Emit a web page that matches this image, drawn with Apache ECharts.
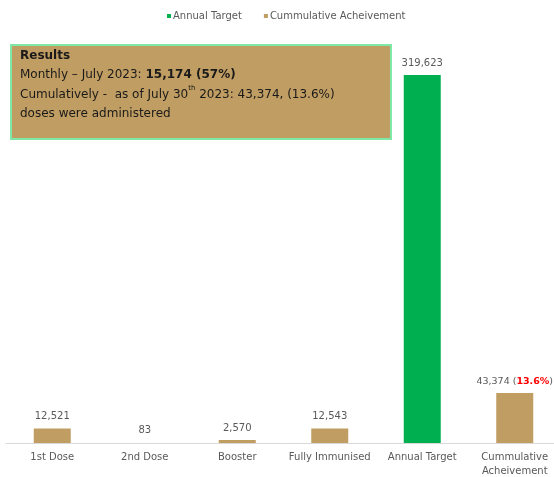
<!DOCTYPE html>
<html><head><meta charset="utf-8">
<script src="https://cdn.jsdelivr.net/npm/echarts@6/dist/echarts.min.js"></script>
<style>html,body{margin:0;padding:0;background:#fff}#c{width:554px;height:477px}</style>
</head><body><div id="c"></div>
<script>
var categories = ['1st Dose', '2nd Dose', 'Booster', 'Fully Immunised', 'Annual Target', 'Cummulative\nAcheivement'];
var targetValues = [null, null, null, null, 319623, null];
var achievementValues = [12521, 83, 2570, 12543, null, 43374];
var cumulativePct = '13.6%';

var GOLD = '#C09D62', GREEN = '#00B050', GRAY = '#595959';
var FONT = '"DejaVu Sans", sans-serif';
var chart = echarts.init(document.getElementById('c'));
chart.setOption({
  animation: false,
  textStyle: { fontFamily: FONT },
  legend: {
    top: 6, left: 162, itemWidth: 4, itemHeight: 4, itemGap: 22,
    textStyle: { color: GRAY, fontSize: 10, fontFamily: FONT, padding: [0, 0, 0, -3] },
    icon: 'rect',
    data: ['Annual Target', 'Cummulative Acheivement']
  },
  grid: { left: 6, width: 555, top: 40, bottom: 34, containLabel: false, outerBoundsMode: 'none' },
  xAxis: {
    type: 'category', data: categories,
    axisLine: { lineStyle: { color: '#D9D9D9', width: 1 } },
    axisTick: { show: false },
    axisLabel: { color: GRAY, fontSize: 10, margin: 7, lineHeight: 14, interval: 0, fontFamily: FONT }
  },
  yAxis: { type: 'value', min: 0, max: 350000, show: false, splitLine: { show: false } },
  series: [
    {
      name: 'Annual Target', type: 'bar', stack: 's', barWidth: 37,
      data: targetValues, itemStyle: { color: GREEN },
      label: { show: true, position: 'top', color: GRAY, fontSize: 10, distance: 7, fontFamily: FONT,
        formatter: function (p) { return p.value == null ? '' : p.value.toLocaleString('en-US'); } }
    },
    {
      name: 'Cummulative Acheivement', type: 'bar', stack: 's', barWidth: 37,
      data: achievementValues, itemStyle: { color: GOLD },
      label: { show: true, position: 'top', color: GRAY, fontSize: 10, distance: 7, fontFamily: FONT,
        formatter: function (p) {
          if (p.value == null) return '';
          var s = p.value.toLocaleString('en-US');
          if (p.dataIndex === categories.length - 1) return '{s|' + s + ' (}{r|' + cumulativePct + '}{s|)}';
          return s;
        },
        rich: {
          s: { color: GRAY, fontSize: 9.5, fontFamily: FONT },
          r: { color: '#FF0000', fontWeight: 'bold', fontSize: 9.5, fontFamily: FONT }
        }
      }
    }
  ],
  graphic: [
    { type: 'rect', left: 10, top: 44, shape: { width: 380, height: 94 },
      style: { fill: GOLD, stroke: '#7FE8A6', lineWidth: 2 } },
    { type: 'text', left: 20, top: 46,
      style: {
        text: '{b|Results}\nMonthly – July 2023: {b|15,174 (57%)}\nCumulatively -  as of July 30{sup|th} 2023: 43,374, (13.6%)\ndoses were administered',
        font: '12px ' + FONT, fill: '#1a1a1a', lineHeight: 19.5,
        rich: {
          b: { fontWeight: 'bold', fontSize: 12, fontFamily: FONT, fill: '#1a1a1a', lineHeight: 19.5 },
          sup: { fontSize: 7, fontFamily: FONT, verticalAlign: 'top', padding: [0, 0, 6, 0], lineHeight: 19.5 }
        }
      } }
  ]
});
</script></body></html>
